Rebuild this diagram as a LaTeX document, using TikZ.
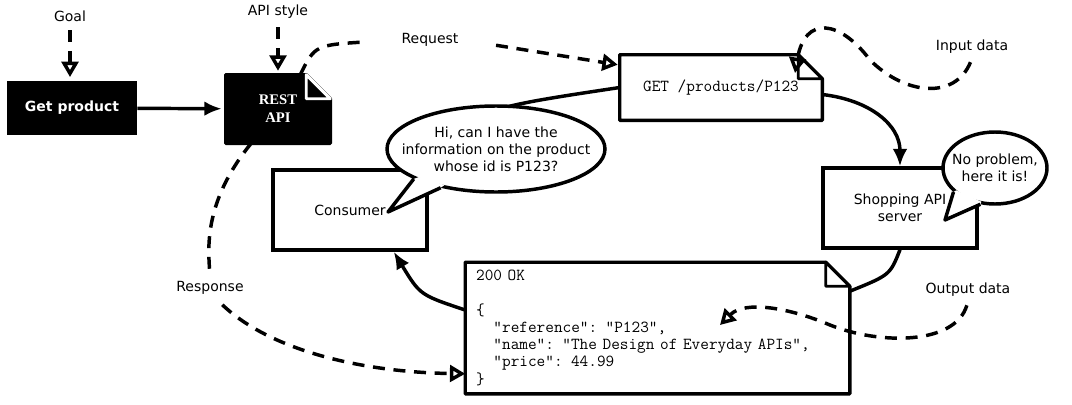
\documentclass[tikz,border=0pt]{standalone}
\usepackage{fontspec}
\setmainfont{DejaVu Sans}
\newfontfamily\restfont{Liberation Serif}
\usetikzlibrary{arrows.meta,calc,shapes.geometric,backgrounds}
\newcommand{\dogear}[3]{%
  \draw[line width=2.6pt,fill=#2,line join=round] (#1.north west) -- ($(#1.north east)+(-24,0)$) -- ($(#1.north east)+(0,24)$) -- (#1.south east) -- (#1.south west) -- cycle;
  \draw[line width=2.2pt,fill=#2,draw=#3,line join=round] ($(#1.north east)+(-24,0)$) -- ($(#1.north east)+(-24,24)$) -- ($(#1.north east)+(0,24)$) -- cycle;}
\newcommand{\bubbletail}[4]{%
  \fill[white] ($(#1.center)!0.93!(#1.#2)$) -- (#1.#2) -- (#4) -- (#1.#3) -- ($(#1.center)!0.93!(#1.#3)$) -- cycle;
  \draw[line width=2.6pt,line join=round] (#1.#2) -- (#4) -- (#1.#3);}

\begin{document}
\begin{tikzpicture}[
    x=0.75pt,y=-0.75pt,
    font=\fontsize{10.5}{12.75}\selectfont,
    box/.style={draw,line width=2.6pt,fill=white,minimum width=115.5pt,minimum height=60pt,align=center},
    blkbox/.style={fill=black,text=white,minimum width=97.5pt,minimum height=40pt,font=\fontsize{10.5}{12}\selectfont\bfseries},
    docbox/.style={minimum width=#1,align=center,inner sep=0pt},
    code/.style={font=\fontsize{12.6}{12.9}\selectfont\ttfamily},
    bubble/.style={ellipse,draw,line width=2.6pt,fill=white,inner sep=0pt,label={[align=center]center:#1}},
    flow/.style={line width=2.6pt,-{Latex[length=13pt,width=11pt]}},
    link/.style={line width=2.6pt},
    dashlink/.style={line width=2.6pt,dash pattern=on 9pt off 6.5pt},
    dashflow/.style={dashlink,-{Triangle[open,length=11.5pt,width=12.5pt]}}
  ]
    \useasboundingbox (0,0) rectangle (1072,404);

    % design side
    \node (goal) at (70,16) {Goal};
    \node (style) at (278,12) {API style};
    \node[blkbox] (getprod) at (72,108) {Get product};
    \node[docbox=78pt,minimum height=51pt,text=white,font=\fontsize{11}{13.5}\selectfont\restfont\bfseries] (rest) at (278,109) {REST\\API};
    \draw[dashflow,shorten <=3pt,shorten >=3pt] (goal) -- (goal |- getprod.north);
    \draw[dashflow,shorten <=3pt,shorten >=3pt] (style) -- (rest);
    \draw[flow,shorten >=3pt] (getprod) -- (rest);

    % request / response
    \node[docbox=151.5pt,minimum height=48.75pt,code] (get) at (721,87.5) {GET /products/P123};
    \node[box] (consumer) at (350,210) {Consumer};
    \node[box] (server) at (900,208) {Shopping API\\server};
    \node[docbox=288pt,minimum height=98.25pt,code,align=left,text width=272pt] (resp) at (657.5,328) {200 OK\\\strut\\\{\\\phantom{xx}"reference": "P123",\\\phantom{xx}"name": "The Design of Everyday APIs",\\\phantom{xx}"price": 44.99\\\}};
    \begin{pgfonlayer}{background}
      \dogear{rest}{black}{white}
      \dogear{get}{white}{black}
      \dogear{resp}{white}{black}
    \end{pgfonlayer}

    \node (reqlbl) at (430,40) {Request};
    \node (resplbl) at (210,288) {Response};
    \node (inlbl) at (972,47) {Input data};
    \node (outlbl) at (968,290) {Output data};
    \coordinate (intip) at (795,73);
    \coordinate (outtip) at (720,325);

    \draw[dashlink,shorten >=22pt] (rest.57) .. controls (315,45) .. (reqlbl.west);
    \draw[dashflow,shorten <=25pt] (reqlbl.east) -- ($(get.north west)+(-2,10)$);
    \draw[dashlink,shorten >=6pt] (rest.-128) .. controls (205,200) and (208,245) .. (resplbl.north);
    \draw[dashflow,shorten <=6pt] (resplbl.-60) .. controls (270,350) and (360,372) .. ($(resp.south west)+(0,-20)$);
    \draw[dashflow,shorten <=3pt] (inlbl.south) .. controls (955,100) and (905,95) .. (870,60) .. controls (840,20) and (805,15) .. (intip);
    \draw[dashflow,shorten <=3pt] (outlbl.south) .. controls (955,345) and (880,345) .. (830,325) .. controls (790,308) and (745,300) .. (outtip);

    \draw[link] (consumer.north east) .. controls (470,110) .. (get.west);
    \draw[flow] ($(get.east)+(0,7)$) .. controls (870,100) and (900,125) .. (server.north);
    \draw[link] (server.south) .. controls (890,275) .. ($(resp.north east)+(0,29)$);
    \draw[flow] ($(resp.west)+(0,-18)$) .. controls (420,295) .. ($(consumer.south east)+(-35,0)$);

    % speech bubbles
    \coordinate (askin) at (388,212);
    \coordinate (replyin) at (945,220);
    \node[bubble={Hi, can I have the\\information on the product\\whose id is P123?},minimum width=163.5pt,minimum height=64.5pt] (ask) at (496,149) {};
    \bubbletail{ask}{-160}{-145}{askin}
    \node[bubble={No problem,\\here it is!},minimum width=78pt,minimum height=54pt] (reply) at (995,168) {};
    \bubbletail{reply}{-150}{-112}{replyin}
  \end{tikzpicture}
\end{document}
